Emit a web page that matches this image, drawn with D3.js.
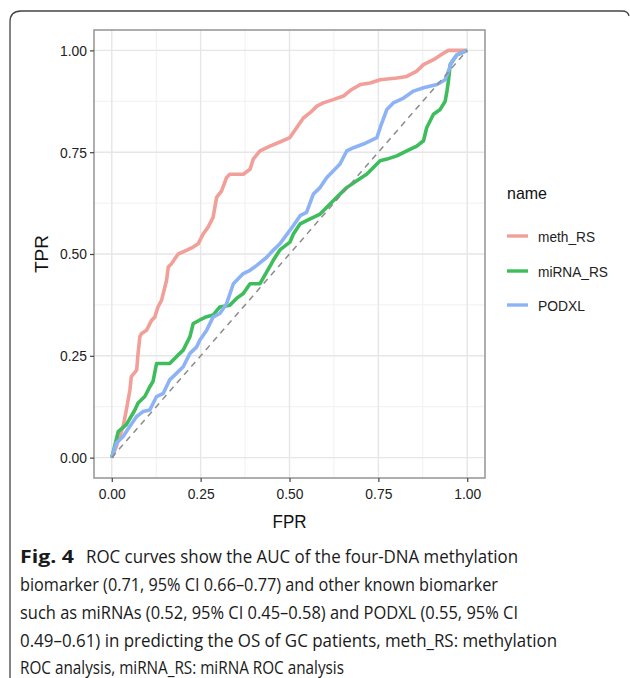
<!DOCTYPE html>
<html>
<head>
<meta charset="utf-8">
<script src="https://cdn.jsdelivr.net/npm/d3@7"></script>
<style>
  body { margin: 0; background: #fff; }
  svg { display: block; }
</style>
</head>
<body>
<svg id="fig" width="630" height="678"></svg>
<script>
// series names + colours (ggplot hue, a bit washed out like the scan)
const names = ["meth_RS", "miRNA_RS", "PODXL"];
const colors = ["#f39f99", "#3dbd5b", "#8db3f6"];

// ROC points (FPR, TPR)
const methFPR = [0, .013, .032, .041, .051, .055, .07, .074, .079, .084, .098, .112, .121, .13, .14, .154, .159, .168, .177, .187, .21, .229, .243, .257, .271, .285, .295, .309, .323, .332, .37, .389, .398, .417, .445, .473, .501, .52, .539, .558, .577, .595, .623, .652, .675, .699, .727, .755, .802, .83, .858, .877, .905, .933, .947, 1];
const methTPR = [0, .028, .077, .117, .166, .199, .215, .256, .297, .305, .313, .337, .345, .37, .386, .435, .468, .476, .488, .5, .509, .517, .525, .549, .566, .59, .639, .655, .688, .696, .696, .708, .733, .753, .765, .775, .786, .81, .834, .847, .863, .871, .879, .888, .904, .916, .92, .928, .932, .936, .949, .965, .977, .993, 1, 1];

const mirFPR = [0, .013, .018, .041, .065, .074, .093, .107, .116, .126, .163, .182, .201, .22, .229, .248, .267, .285, .304, .332, .351, .37, .389, .417, .436, .454, .473, .501, .511, .53, .548, .586, .614, .642, .661, .689, .717, .755, .774, .802, .83, .858, .877, .886, .905, .924, .938, .943, .947, .952, .971, 1];
const mirTPR = [0, .045, .064, .081, .117, .134, .15, .174, .187, .231, .231, .248, .264, .297, .329, .338, .346, .35, .37, .374, .391, .403, .427, .427, .456, .484, .51, .529, .549, .574, .582, .598, .623, .647, .663, .68, .696, .729, .733, .741, .753, .765, .778, .81, .843, .855, .875, .9, .924, .965, .989, 1];

const podFPR = [0, .013, .032, .051, .07, .088, .107, .126, .145, .163, .182, .201, .22, .239, .248, .267, .285, .304, .323, .342, .37, .389, .408, .436, .454, .473, .511, .53, .548, .567, .586, .605, .623, .642, .661, .68, .708, .727, .746, .755, .774, .792, .821, .849, .877, .915, .938, .947, .957, .971, 1];
const podTPR = [0, .036, .052, .077, .101, .113, .117, .15, .158, .191, .207, .223, .256, .272, .289, .313, .345, .354, .378, .427, .452, .46, .472, .492, .509, .525, .57, .594, .602, .647, .663, .688, .704, .721, .753, .761, .77, .778, .786, .81, .855, .871, .883, .9, .908, .916, .928, .949, .973, .989, 1];

const ticks = [0, 0.25, 0.5, 0.75, 1];
const tickLabels = ["0.00", "0.25", "0.50", "0.75", "1.00"];

const captionLines = [
  "biomarker (0.71, 95% CI 0.66\u20130.77) and other known biomarker",
  "such as miRNAs (0.52, 95% CI 0.45\u20130.58) and PODXL (0.55, 95% CI",
  "0.49\u20130.61) in predicting the OS of GC patients, meth_RS: methylation",
  "ROC analysis, miRNA_RS: miRNA ROC analysis"
];
const captionWidths = [478, 498, 537, 324];

const series = [
  {name: names[0], color: colors[0], pts: methFPR.map((f, i) => [f, methTPR[i]])},
  {name: names[1], color: colors[1], pts: mirFPR.map((f, i) => [f, mirTPR[i]])},
  {name: names[2], color: colors[2], pts: podFPR.map((f, i) => [f, podTPR[i]])}
];

const svg = d3.select("#fig");
const panel = {left: 94, right: 485, top: 30, bottom: 478};

// ggplot style 5% expansion
const x = d3.scaleLinear().domain([-0.05, 1.05]).range([panel.left, panel.right]);
const y = d3.scaleLinear().domain([-0.05, 1.05]).range([panel.bottom, panel.top]);

// outer frame of the figure (rounded corner, right side cut)
svg.append("path")
  .attr("d", "M10,678 L10,22 Q10,11 21,11 L622,11 Q628,11 629,16")
  .attr("fill", "none")
  .attr("stroke", "#444")
  .attr("stroke-width", 1.3);

svg.append("rect")
  .attr("x", panel.left).attr("y", panel.top)
  .attr("width", panel.right - panel.left).attr("height", panel.bottom - panel.top)
  .attr("fill", "#fff");

// grid
const minor = [0.125, 0.375, 0.625, 0.875];
const grid = svg.append("g");
minor.forEach(v => {
  grid.append("line").attr("x1", x(v)).attr("x2", x(v)).attr("y1", panel.top).attr("y2", panel.bottom)
    .attr("stroke", "#f0f0f0").attr("stroke-width", 1);
  grid.append("line").attr("y1", y(v)).attr("y2", y(v)).attr("x1", panel.left).attr("x2", panel.right)
    .attr("stroke", "#f0f0f0").attr("stroke-width", 1);
});
ticks.forEach(v => {
  grid.append("line").attr("x1", x(v)).attr("x2", x(v)).attr("y1", panel.top).attr("y2", panel.bottom)
    .attr("stroke", "#e6e6e6").attr("stroke-width", 1.4);
  grid.append("line").attr("y1", y(v)).attr("y2", y(v)).attr("x1", panel.left).attr("x2", panel.right)
    .attr("stroke", "#e6e6e6").attr("stroke-width", 1.4);
});

// curves
const line = d3.line().x(d => x(d[0])).y(d => y(d[1]));
svg.append("g").selectAll("path")
  .data(series)
  .join("path")
  .attr("d", d => line(d.pts))
  .attr("fill", "none")
  .attr("stroke", d => d.color)
  .attr("stroke-width", 3.6)
  .attr("stroke-linejoin", "round");

// chance line
svg.append("line")
  .attr("x1", x(0)).attr("y1", y(0)).attr("x2", x(1)).attr("y2", y(1))
  .attr("stroke", "#8c8c8c").attr("stroke-width", 1.5)
  .attr("stroke-dasharray", "6,5");

// panel border
svg.append("rect")
  .attr("x", panel.left).attr("y", panel.top)
  .attr("width", panel.right - panel.left).attr("height", panel.bottom - panel.top)
  .attr("fill", "none").attr("stroke", "#9a9a9a").attr("stroke-width", 1.6);

// axes
const font = "'Liberation Sans', Arial, sans-serif";
const xAxis = svg.append("g").attr("transform", `translate(0,${panel.bottom})`)
  .call(d3.axisBottom(x).tickValues(ticks).tickFormat((d, i) => tickLabels[i]).tickSize(4).tickPadding(6));
const yAxis = svg.append("g").attr("transform", `translate(${panel.left},0)`)
  .call(d3.axisLeft(y).tickValues(ticks).tickFormat((d, i) => tickLabels[i]).tickSize(4).tickPadding(3));
[xAxis, yAxis].forEach(a => {
  a.select(".domain").remove();
  a.selectAll(".tick line").attr("stroke", "#444").attr("stroke-width", 1.2);
  a.selectAll(".tick text")
    .attr("font-family", font).attr("font-size", 15.5).attr("fill", "#222")
    .attr("textLength", 27).attr("lengthAdjust", "spacingAndGlyphs");
});

svg.append("text")
  .attr("x", (panel.left + panel.right) / 2).attr("y", 528)
  .attr("text-anchor", "middle")
  .attr("font-family", font).attr("font-size", 19).attr("fill", "#111")
  .attr("textLength", 34).attr("lengthAdjust", "spacingAndGlyphs")
  .text("FPR");

svg.append("text")
  .attr("transform", `translate(48,${(panel.top + panel.bottom) / 2}) rotate(-90)`)
  .attr("text-anchor", "middle")
  .attr("font-family", font).attr("font-size", 19).attr("fill", "#111")
  .attr("textLength", 38).attr("lengthAdjust", "spacingAndGlyphs")
  .text("TPR");

// legend
const legend = svg.append("g");
legend.append("text")
  .attr("x", 507).attr("y", 199)
  .attr("font-family", font).attr("font-size", 17).attr("fill", "#111")
  .attr("textLength", 40).attr("lengthAdjust", "spacingAndGlyphs")
  .text("name");
const legY = [236, 271, 305];
const legW = [57, 70, 47];
series.forEach((s, i) => {
  legend.append("line")
    .attr("x1", 507).attr("x2", 528).attr("y1", legY[i]).attr("y2", legY[i])
    .attr("stroke", s.color).attr("stroke-width", 3.4);
  legend.append("text")
    .attr("x", 538).attr("y", legY[i] + 5.5)
    .attr("font-family", font).attr("font-size", 15).attr("fill", "#222")
    .attr("textLength", legW[i]).attr("lengthAdjust", "spacingAndGlyphs")
    .text(s.name);
});

// caption
const capFont = "'Open Sans', 'Noto Sans', sans-serif";
const cap = svg.append("g").attr("font-family", capFont).attr("fill", "#1a1a1a").attr("font-size", 18);
cap.append("text").attr("x", 20).attr("y", 563)
  .attr("font-weight", "bold").attr("textLength", 54).attr("lengthAdjust", "spacingAndGlyphs")
  .text("Fig. 4");
cap.append("text").attr("x", 86).attr("y", 563)
  .attr("textLength", 432).attr("lengthAdjust", "spacingAndGlyphs")
  .text("ROC curves show the AUC of the four-DNA methylation");
captionLines.forEach((t, i) => {
  cap.append("text").attr("x", 20).attr("y", 591 + i * 27.8)
    .attr("textLength", captionWidths[i]).attr("lengthAdjust", "spacingAndGlyphs")
    .text(t);
});
</script>
</body>
</html>
